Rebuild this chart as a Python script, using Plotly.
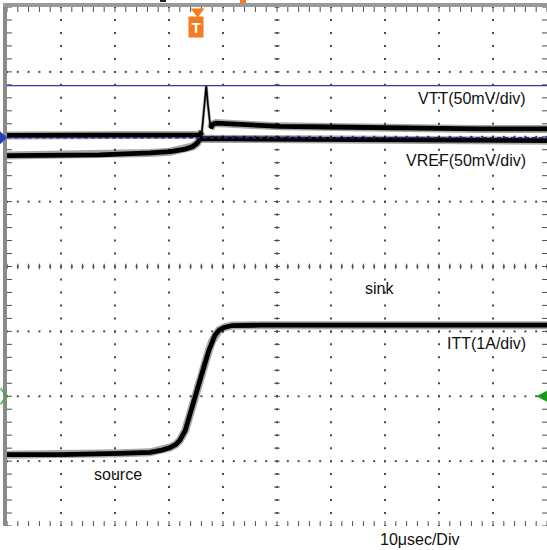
import plotly.graph_objects as go

# ---------------- data (time in µs, vertical position in graticule divisions) ----------------
vtt_t = [0, 17.2, 33.9, 35.7, 36.1, 36.5, 36.9, 37.2, 37.7, 38.1, 38.7, 43.1, 50.6, 59.8, 72.8, 87.6, 100]
vtt_div = [2.02, 2.02, 2.02, 2.03, 2.08, 2.44, 2.79, 2.50, 2.13, 2.19, 2.21, 2.19, 2.16, 2.15, 2.13, 2.12, 2.12]

vref_t = [0, 17.2, 26.5, 30.2, 33.0, 34.4, 35.2, 35.7, 36.5, 43.1, 59.8, 80.2, 100]
vref_div = [1.71, 1.72, 1.75, 1.77, 1.81, 1.85, 1.90, 1.96, 1.97, 1.965, 1.96, 1.95, 1.94]

itt_t = [0, 9.8, 20.9, 26.5, 28.7, 30.2, 31.3, 32.0, 33.0, 33.9, 34.8, 35.7, 36.7, 37.4,
         38.0, 38.5, 39.3, 40.2, 41.7, 46.9, 100]
itt_div = [-2.90, -2.90, -2.88, -2.865, -2.83, -2.79, -2.74, -2.68, -2.53, -2.26, -1.99, -1.72,
           -1.48, -1.29, -1.15, -1.06, -0.98, -0.94, -0.91, -0.905, -0.905]

vtt_cursor_level = 2.787      # solid blue cursor line
ch_ref_level = 1.985          # blue channel reference (dashed) + marker
itt_ref_level = -2.0          # green channel reference markers
trigger_t = 35.3              # trigger position (µs)

time_span = [0, 100]          # 10 divisions x 10 µs
div_span = [-4, 4]            # 8 vertical divisions

labels = ["VTT(50mV/div)", "VREF(50mV/div)", "sink", "ITT(1A/div)", "source"]
label_t = [96.5, 96.5, 68.9, 96.5, 20.6]
label_div = [2.594, 1.638, -0.336, -1.184, -3.204]
label_anchor = ["right", "right", "center", "right", "center"]
time_label = "10μsec/Div"

# ---------------- figure ----------------
W, H = 547, 550
L, R, T, B = 7, 0, 7, 24
FONT = "Liberation Sans, Arial, sans-serif"
ORANGE = "#F47B20"
GRID = "#4a4a4a"


def px_x(p):
    return (p - L) / (W - L - R)


def px_y(p):
    return (H - B - p) / (H - T - B)


def div_to_px(d):
    return T + (div_span[1] - d) * (H - T - B) / (div_span[1] - div_span[0])


fig = go.Figure()

# graticule dots
gx, gy = [], []
for k in range(1, 10):
    for j in range(0, 41):
        gx.append(k * 10)
        gy.append(-4 + j * 0.2)
for k in range(-3, 4):
    for i in range(0, 51):
        gx.append(i * 2)
        gy.append(k)
fig.add_trace(go.Scatter(x=gx, y=gy, mode="markers",
                         marker=dict(symbol="square", size=2, color=GRID, line=dict(width=0)),
                         hoverinfo="skip"))

# centre-line ticks
cx = [50] * 41
cy = [-4 + j * 0.2 for j in range(41)]
fig.add_trace(go.Scatter(x=cx, y=cy, mode="markers",
                         marker=dict(symbol="line-ew", size=4, line=dict(width=1, color=GRID)),
                         hoverinfo="skip"))
hx = [i * 2 for i in range(51)]
hy = [0] * 51
fig.add_trace(go.Scatter(x=hx, y=hy, mode="markers",
                         marker=dict(symbol="line-ns", size=4, line=dict(width=1, color=GRID)),
                         hoverinfo="skip"))

# edge ticks
ey = [-4 + j * 0.2 for j in range(41)]
fig.add_trace(go.Scatter(x=[0] * 41 + [100] * 41, y=ey + ey, mode="markers",
                         marker=dict(symbol="line-ew", size=7, line=dict(width=1, color=GRID)),
                         hoverinfo="skip"))
ex = [i * 2 for i in range(51)]
fig.add_trace(go.Scatter(x=ex + ex, y=[4] * 51 + [-4] * 51, mode="markers",
                         marker=dict(symbol="line-ns", size=7, line=dict(width=1, color=GRID)),
                         hoverinfo="skip"))


def add_wave(tx, ty, core=4.8, halo=8):
    fig.add_trace(go.Scatter(x=tx, y=ty, mode="lines",
                             line=dict(color="rgba(0,0,0,0.35)", width=halo), hoverinfo="skip"))
    fig.add_trace(go.Scatter(x=tx, y=ty, mode="lines",
                             line=dict(color="#000000", width=core), hoverinfo="skip"))


# VTT: thick noisy band on the flat parts, thin line through the fast spike
add_wave(vtt_t[:5], vtt_div[:5])
add_wave(vtt_t[3:10], vtt_div[3:10], core=1.6, halo=3)
add_wave(vtt_t[8:], vtt_div[8:])
add_wave(vref_t, vref_div)
add_wave(itt_t, itt_div)

# blue cursor / reference lines
fig.add_trace(go.Scatter(x=time_span, y=[vtt_cursor_level] * 2, mode="lines",
                         line=dict(color="#3a3aa0", width=1.3), hoverinfo="skip"))
fig.add_trace(go.Scatter(x=time_span, y=[ch_ref_level] * 2, mode="lines",
                         line=dict(color="#1c2a90", width=1.6, dash="4px,3px"), hoverinfo="skip"))

# trigger marker (triangle)
fig.add_trace(go.Scatter(x=[trigger_t], y=[3.93], mode="markers", cliponaxis=False,
                         marker=dict(symbol="triangle-down", size=12, color=ORANGE),
                         hoverinfo="skip"))

fig.update_layout(
    width=W, height=H,
    margin=dict(l=L, r=R, t=T, b=B, pad=0),
    paper_bgcolor="white", plot_bgcolor="white",
    showlegend=False,
    xaxis=dict(range=time_span, visible=False, fixedrange=True),
    yaxis=dict(range=div_span, visible=False, fixedrange=True),
)

anns = []
for txt, x, y, a in zip(labels, label_t, label_div, label_anchor):
    anns.append(dict(x=x, y=y, xref="x", yref="y", text=txt, showarrow=False,
                     xanchor=a, yanchor="middle",
                     font=dict(family=FONT, size=16, color="#111")))
anns.append(dict(x=px_x(419), y=px_y(539), xref="paper", yref="paper", text=time_label,
                 showarrow=False, xanchor="center", yanchor="middle",
                 font=dict(family=FONT, size=16, color="#111")))
# trigger "T" tag
anns.append(dict(x=trigger_t - 0.25, y=3.69, xref="x", yref="y", text="<b>T</b>", showarrow=False,
                 xanchor="center", yanchor="middle", bgcolor=ORANGE, borderpad=2,
                 width=10, height=16,
                 font=dict(family=FONT, size=15, color="white")))
# green reference arrow on the right
anns.append(dict(x=98.0, y=itt_ref_level, xref="x", yref="y", text="", showarrow=True,
                 ax=12, ay=0, arrowhead=2, arrowsize=1.4, arrowwidth=2.2, arrowcolor="#1a9a1a"))
fig.update_layout(annotations=anns)

# frame decorations (paper coordinates)
gy_px = div_to_px(itt_ref_level)
by_px = div_to_px(ch_ref_level)
chev = "M {:.5f},{:.5f} L {:.5f},{:.5f} L {:.5f},{:.5f}".format(
    px_x(0.5), px_y(gy_px - 8), px_x(6.5), px_y(gy_px), px_x(0.5), px_y(gy_px + 8))
tri = "M {:.5f},{:.5f} L {:.5f},{:.5f} L {:.5f},{:.5f} Z".format(
    px_x(0), px_y(by_px - 6.5), px_x(7), px_y(by_px), px_x(0), px_y(by_px + 6.5))
shapes = [
    dict(type="rect", xref="paper", yref="paper", x0=px_x(3), x1=px_x(7), y0=px_y(526), y1=px_y(3),
         fillcolor="#8a8a8a", line=dict(width=0), layer="below"),
    dict(type="rect", xref="paper", yref="paper", x0=px_x(3), x1=px_x(547), y0=px_y(7), y1=px_y(3),
         fillcolor="#9a9a9a", line=dict(width=0), layer="below"),
    dict(type="rect", xref="paper", yref="paper", x0=px_x(240), x1=px_x(246), y0=px_y(3), y1=px_y(0),
         fillcolor=ORANGE, line=dict(width=0), layer="above"),
    dict(type="rect", xref="paper", yref="paper", x0=px_x(160), x1=px_x(166), y0=px_y(2), y1=px_y(0),
         fillcolor="#222", line=dict(width=0), layer="above"),
    dict(type="path", xref="paper", yref="paper", path=chev,
         line=dict(color="#3cb043", width=1.5), layer="above"),
    dict(type="path", xref="paper", yref="paper", path=tri,
         fillcolor="#2b3bb5", line=dict(width=0), layer="above"),
]
fig.update_layout(shapes=shapes)

fig.write_html("out.html", config={"displayModeBar": False},
               post_script="document.body.style.margin='0';document.body.style.overflow='hidden';")
